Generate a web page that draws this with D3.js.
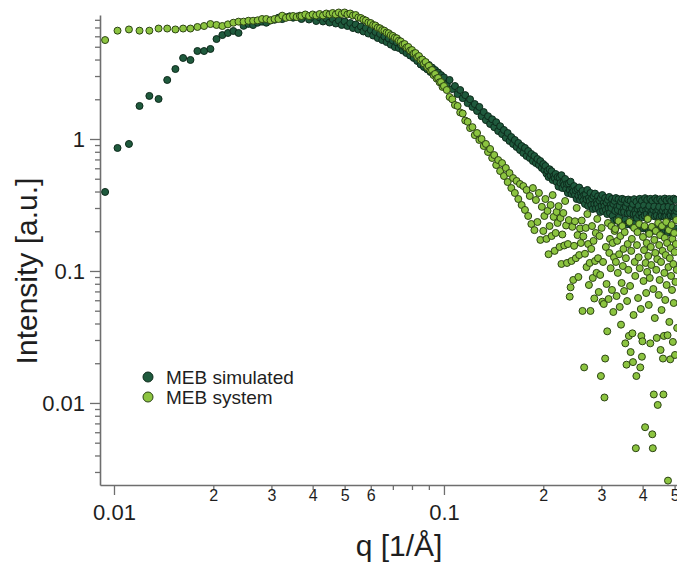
<!DOCTYPE html>
<meta charset="utf-8" />
<script src="https://d3js.org/d3.v7.min.js"></script>
<style>
  body { margin: 0; background: #fff; }
</style>
<div id="my_dataviz"></div>
<script>
  // scattering vector q [1/Å], shared by both curves
  const q = [
    0.0094, 0.01025, 0.0111, 0.01195, 0.0128, 0.01365, 0.0145, 0.01535, 0.0162, 0.01705,
    0.0179, 0.01875, 0.0196, 0.02045, 0.0213, 0.02215, 0.023, 0.02385, 0.0247, 0.02555,
    0.0264, 0.02725, 0.0281, 0.02895, 0.0298, 0.03065, 0.0315, 0.03235, 0.0332, 0.03405,
    0.0349, 0.03575, 0.0366,
    0.037, 0.038, 0.039, 0.04, 0.041, 0.042, 0.043, 0.044, 0.045, 0.046,
    0.047, 0.048, 0.049, 0.05, 0.051, 0.052, 0.053, 0.054, 0.055, 0.056,
    0.057, 0.058, 0.059, 0.06, 0.061, 0.062, 0.063, 0.064, 0.065, 0.066,
    0.067, 0.068, 0.069, 0.07, 0.071, 0.072, 0.073, 0.074, 0.075, 0.076,
    0.077, 0.078, 0.079, 0.08, 0.081, 0.082, 0.083, 0.084, 0.085, 0.086,
    0.087, 0.088, 0.089, 0.09, 0.091, 0.092, 0.093, 0.094, 0.095, 0.096,
    0.097, 0.098, 0.099, 0.1,
    0.102, 0.104, 0.106, 0.108, 0.11, 0.112, 0.114, 0.116, 0.118, 0.12,
    0.122, 0.124, 0.126, 0.128, 0.13, 0.132, 0.134, 0.136, 0.138, 0.14,
    0.142, 0.144, 0.146, 0.148, 0.15, 0.152, 0.154, 0.156, 0.158, 0.16,
    0.162, 0.164, 0.166, 0.168, 0.17, 0.172, 0.174, 0.176, 0.178, 0.18,
    0.182, 0.184, 0.186, 0.188, 0.19, 0.192, 0.194, 0.196, 0.198, 0.2,
    0.2015, 0.203, 0.2045, 0.206, 0.2075, 0.209, 0.2105, 0.212, 0.2135, 0.215,
    0.2165, 0.218, 0.2195, 0.221, 0.2225, 0.224, 0.2255, 0.227, 0.2285, 0.23,
    0.2315, 0.233, 0.2345, 0.236, 0.2375, 0.239, 0.2405, 0.242, 0.2435, 0.245,
    0.2465, 0.248, 0.2495, 0.251, 0.2525, 0.254, 0.2555, 0.257, 0.2585, 0.26,
    0.2615, 0.263, 0.2645, 0.266, 0.2675, 0.269, 0.2705, 0.272, 0.2735, 0.275,
    0.2765, 0.278, 0.2795, 0.281, 0.2825, 0.284, 0.2855, 0.287, 0.2885, 0.29,
    0.2915, 0.293, 0.2945, 0.296, 0.2975, 0.299, 0.3005, 0.302, 0.3035, 0.305,
    0.3065, 0.308, 0.3095, 0.311, 0.3125, 0.314, 0.3155, 0.317, 0.3185, 0.32,
    0.3215, 0.323, 0.3245, 0.326, 0.3275, 0.329, 0.3305, 0.332, 0.3335, 0.335,
    0.3365, 0.338, 0.3395, 0.341, 0.3425, 0.344, 0.3455, 0.347, 0.3485, 0.35,
    0.3515, 0.353, 0.3545, 0.356, 0.3575, 0.359, 0.3605, 0.362, 0.3635, 0.365,
    0.3665, 0.368, 0.3695, 0.371, 0.3725, 0.374, 0.3755, 0.377, 0.3785, 0.38,
    0.3815, 0.383, 0.3845, 0.386, 0.3875, 0.389, 0.3905, 0.392, 0.3935, 0.395,
    0.3965, 0.398, 0.3995, 0.401, 0.4025, 0.404, 0.4055, 0.407, 0.4085, 0.41,
    0.4115, 0.413, 0.4145, 0.416, 0.4175, 0.419, 0.4205, 0.422, 0.4235, 0.425,
    0.4265, 0.428, 0.4295, 0.431, 0.4325, 0.434, 0.4355, 0.437, 0.4385, 0.44,
    0.4415, 0.443, 0.4445, 0.446, 0.4475, 0.449, 0.4505, 0.452, 0.4535, 0.455,
    0.4565, 0.458, 0.4595, 0.461, 0.4625, 0.464, 0.4655, 0.467, 0.4685, 0.47,
    0.4715, 0.473, 0.4745, 0.476, 0.4775, 0.479, 0.4805, 0.482, 0.4835, 0.485,
    0.4865, 0.488, 0.4895, 0.491, 0.4925, 0.494, 0.4955, 0.497, 0.4985, 0.5,
    0.5015, 0.503, 0.5045, 0.506, 0.5075, 0.509
  ];

  // MEB simulated intensity [a.u.]
  const simulated = [
    0.397, 0.855, 0.917, 1.78, 2.12, 2.01, 2.8, 3.39, 4.11, 3.97,
    4.64, 4.64, 4.81, 5.72, 6.13, 6.36, 6.58, 6.36, 7.2, 7.45,
    7.3, 7.6, 7.75, 7.6, 7.9, 8.0, 8.3, 8.1, 8.35, 8.5,
    8.3, 8.45, 8.6,
    8.11, 8.7, 8.04, 8.4, 7.83, 8.33, 7.77, 8.18, 7.63, 8.11,
    7.5, 7.9, 7.31, 7.77, 7.18, 7.56, 6.93, 7.37, 6.75, 7.12,
    6.53, 6.93, 6.3, 6.69, 6.08, 6.47, 5.82, 6.25, 5.62, 5.98,
    5.43, 5.77, 5.19, 5.57, 4.98, 5.38, 4.89, 5.15, 4.68, 4.98,
    4.48, 4.81, 4.29, 4.56, 4.11, 4.4, 3.9, 4.18, 3.67, 3.97,
    3.51, 3.8, 3.37, 3.64, 3.22, 3.48, 3.08, 3.33, 3.0, 3.19,
    2.85, 3.05, 2.73, 2.93,
    2.61, 2.8, 2.39, 2.52, 2.19, 2.35, 2.04, 2.15, 1.87, 2.0,
    1.75, 1.84, 1.63, 1.75, 1.49, 1.6, 1.39, 1.49, 1.3, 1.41,
    1.23, 1.34, 1.15, 1.25, 1.09, 1.17, 1.02, 1.11, 0.966, 1.035,
    0.917, 0.983, 0.87, 0.933, 0.825, 0.885, 0.783, 0.855, 0.743, 0.811,
    0.718, 0.77, 0.681, 0.743, 0.657, 0.705, 0.635, 0.681, 0.603, 0.646,
    0.582, 0.624, 0.547, 0.575, 0.515, 0.59, 0.529, 0.57, 0.489, 0.524,
    0.506, 0.543, 0.472, 0.515, 0.436, 0.51, 0.464, 0.532, 0.425, 0.468,
    0.448, 0.498, 0.418, 0.456, 0.39, 0.46, 0.411, 0.475, 0.383, 0.421,
    0.4, 0.44, 0.376, 0.408, 0.351, 0.418, 0.373, 0.429, 0.345, 0.386,
    0.364, 0.404, 0.342, 0.376, 0.322, 0.38, 0.348, 0.411, 0.311, 0.357,
    0.339, 0.39, 0.316, 0.354, 0.295, 0.37, 0.322, 0.386, 0.298, 0.336,
    0.322, 0.368, 0.3, 0.342, 0.28, 0.357, 0.311, 0.376, 0.285, 0.328,
    0.309, 0.357, 0.29, 0.33, 0.27, 0.345, 0.3, 0.364, 0.275, 0.316,
    0.3, 0.351, 0.262, 0.322, 0.24, 0.339, 0.285, 0.357, 0.245, 0.306,
    0.29, 0.35, 0.255, 0.311, 0.23, 0.335, 0.28, 0.352, 0.236, 0.295,
    0.28, 0.345, 0.245, 0.306, 0.225, 0.328, 0.273, 0.348, 0.232, 0.29,
    0.275, 0.34, 0.24, 0.3, 0.22, 0.322, 0.27, 0.35, 0.228, 0.285,
    0.27, 0.335, 0.252, 0.295, 0.207, 0.311, 0.266, 0.352, 0.214, 0.285,
    0.272, 0.34, 0.255, 0.292, 0.21, 0.314, 0.263, 0.356, 0.212, 0.288,
    0.27, 0.345, 0.248, 0.295, 0.2, 0.311, 0.261, 0.352, 0.207, 0.28,
    0.268, 0.34, 0.214, 0.29, 0.202, 0.308, 0.259, 0.355, 0.209, 0.28,
    0.263, 0.344, 0.214, 0.29, 0.198, 0.306, 0.257, 0.35, 0.207, 0.275,
    0.262, 0.338, 0.216, 0.287, 0.196, 0.304, 0.258, 0.354, 0.204, 0.277,
    0.26, 0.342, 0.21, 0.283, 0.195, 0.307, 0.255, 0.351, 0.203, 0.273,
    0.263, 0.339, 0.211, 0.286, 0.197, 0.302, 0.258, 0.353, 0.205, 0.276,
    0.261, 0.345, 0.21, 0.285, 0.196, 0.3
  ];

  // MEB system intensity [a.u.]
  const system = [
    5.62, 6.62, 6.76, 6.62, 6.62, 6.87, 6.87, 6.76, 6.87, 6.87,
    7.06, 7.18, 7.43, 7.31, 7.18, 7.39, 7.6, 7.75, 7.75, 7.87,
    7.87, 7.93, 8.11, 8.11, 7.93, 8.11, 8.11, 8.6, 8.28, 8.4,
    8.55, 8.4, 8.55,
    8.55, 8.78, 8.55, 8.78, 8.62, 8.85, 8.62, 8.93, 8.78, 9.01,
    8.78, 9.09, 8.85, 9.09, 8.78, 8.93, 8.62, 8.7, 8.33, 8.25,
    8.04, 7.9, 7.63, 7.56, 7.31, 7.24, 6.98, 6.9, 6.69, 6.62,
    6.4, 6.33, 6.12, 6.04, 5.86, 5.79, 5.56, 5.49, 5.19, 5.24,
    4.94, 4.98, 4.68, 4.72, 4.44, 4.48, 4.18, 4.25, 3.97, 4.0,
    3.73, 3.83, 3.51, 3.58, 3.3, 3.33, 3.05, 3.11, 2.87, 2.9,
    2.69, 2.7, 2.48, 2.52,
    2.35, 2.08, 2.0, 1.81, 1.78, 1.59, 1.56, 1.38, 1.35, 1.21,
    1.23, 1.07, 1.11, 0.983, 1.0, 0.885, 0.917, 0.797, 0.84, 0.718,
    0.756, 0.635, 0.693, 0.572, 0.657, 0.524, 0.603, 0.472, 0.552, 0.425,
    0.506, 0.39, 0.481, 0.351, 0.456, 0.316, 0.44, 0.29, 0.411, 0.261,
    0.37, 0.227, 0.425, 0.204, 0.345, 0.235, 0.39, 0.172, 0.306, 0.201,
    0.261, 0.351, 0.175, 0.285, 0.134, 0.219, 0.316, 0.184, 0.376, 0.257,
    0.142, 0.194, 0.28, 0.231, 0.31, 0.152, 0.252, 0.113, 0.189, 0.275,
    0.156, 0.339, 0.221, 0.115, 0.16, 0.243, 0.0639, 0.0752, 0.119, 0.216,
    0.0855, 0.155, 0.238, 0.125, 0.3, 0.187, 0.0901, 0.132, 0.21, 0.163,
    0.241, 0.0498, 0.183, 0.0186, 0.135, 0.212, 0.107, 0.27, 0.16, 0.0783,
    0.115, 0.0498, 0.147, 0.219, 0.0885, 0.169, 0.0619, 0.119, 0.194, 0.0967,
    0.248, 0.125, 0.0693, 0.184, 0.0933, 0.016, 0.212, 0.0585, 0.117, 0.0562,
    0.011, 0.0217, 0.152, 0.0797, 0.0349, 0.231, 0.0613, 0.137, 0.175, 0.105,
    0.219, 0.0718, 0.163, 0.0489, 0.127, 0.201, 0.208, 0.117, 0.0646, 0.169,
    0.0967, 0.239, 0.134, 0.0534, 0.184, 0.0392, 0.0811, 0.219, 0.109, 0.147,
    0.0705, 0.197, 0.0283, 0.125, 0.0195, 0.0592, 0.16, 0.102, 0.0322, 0.235,
    0.077, 0.0243, 0.142, 0.175, 0.0337, 0.0204, 0.0464, 0.212, 0.117, 0.0917,
    0.00454, 0.016, 0.157, 0.197, 0.0624, 0.127, 0.227, 0.105, 0.0186, 0.0515,
    0.0322, 0.0224, 0.0293, 0.181, 0.084, 0.144, 0.219, 0.00655, 0.115, 0.0681,
    0.163, 0.0984, 0.248, 0.13, 0.0553, 0.191, 0.0885, 0.0283, 0.152, 0.111,
    0.216, 0.00579, 0.00454, 0.073, 0.0116, 0.172, 0.044, 0.137, 0.201, 0.102,
    0.0311, 0.123, 0.00966, 0.231, 0.0658, 0.157, 0.0855, 0.187, 0.0252, 0.117,
    0.0506, 0.219, 0.142, 0.0217, 0.0116, 0.0322, 0.0967, 0.178, 0.0603, 0.132,
    0.235, 0.0783, 0.163, 0.0326, 0.00258, 0.107, 0.204, 0.0411, 0.125, 0.0214,
    0.149, 0.0917, 0.223, 0.0718, 0.175, 0.029, 0.113, 0.0572, 0.194, 0.139,
    0.0231, 0.0826, 0.16, 0.243, 0.102, 0.037
  ];

  const seriesNames = ["MEB simulated", "MEB system"];
  const xMajor = [0.01, 0.1];
  const xMinor = [0.02, 0.03, 0.04, 0.05, 0.06, 0.07, 0.08, 0.09, 0.2, 0.3, 0.4, 0.5];
  const xMinorLabelled = [0.02, 0.03, 0.04, 0.05, 0.06, 0.2, 0.3, 0.4, 0.5];
  const yMajor = [0.01, 0.1, 1];
  const yMinor = [
    0.003, 0.004, 0.005, 0.006, 0.007, 0.008, 0.009,
    0.02, 0.03, 0.04, 0.05, 0.06, 0.07, 0.08, 0.09,
    0.2, 0.3, 0.4, 0.5, 0.6, 0.7, 0.8, 0.9,
    2, 3, 4, 5, 6, 7, 8
  ];

  const width = 677, height = 565;
  const font = "'Liberation Sans', Arial, Helvetica, sans-serif";
  const axisColor = "#6e6e6e";
  const fills = { "MEB simulated": "#1f5a3d", "MEB system": "#8cc440" };
  const strokes = { "MEB simulated": "#0d2a1b", "MEB system": "#2c4414" };

  const svg = d3
    .select("#my_dataviz")
    .append("svg")
    .attr("width", width)
    .attr("height", height)
    .style("display", "block")
    .style("background", "#fff");

  // log scales, plot frame: left 100, bottom 485, top 15
  const x = d3.scaleLog().domain([0.00907, 0.597]).range([100, 700]);
  const y = d3.scaleLog().domain([0.00239, 8.7]).range([485, 15]);

  function styleAxis(g, showDomain) {
    g.select(".domain")
      .attr("stroke", axisColor)
      .attr("stroke-width", 1.6)
      .style("display", showDomain ? null : "none");
    g.selectAll(".tick line").attr("stroke", axisColor).attr("stroke-width", 1.3);
    g.selectAll("text").attr("fill", "#1e1e1e").style("font-family", font);
  }

  // Y axis
  svg
    .append("g")
    .attr("transform", "translate(100,0)")
    .call(d3.axisLeft(y).tickValues(yMinor).tickSize(5).tickSizeOuter(0).tickFormat(""))
    .call((g) => styleAxis(g, false));

  svg
    .append("g")
    .attr("transform", "translate(100,0)")
    .call(
      d3.axisLeft(y).tickValues(yMajor).tickSize(10).tickSizeOuter(0).tickPadding(5)
        .tickFormat(d3.format("~g"))
    )
    .call((g) => styleAxis(g, true))
    .call((g) => g.selectAll("text").style("font-size", "22px"));

  // X axis
  svg
    .append("g")
    .attr("transform", "translate(0,485)")
    .call(
      d3.axisBottom(x).tickValues(xMinor).tickSize(5).tickSizeOuter(0)
        .tickFormat((d) =>
          xMinorLabelled.includes(d)
            ? String(Math.round(d / Math.pow(10, Math.floor(Math.log10(d) + 1e-9))))
            : ""
        )
    )
    .call((g) => styleAxis(g, false))
    .call((g) =>
      g.selectAll("text").style("font-size", "16px").attr("dy", null).attr("y", 16)
    );

  svg
    .append("g")
    .attr("transform", "translate(0,485)")
    .call(d3.axisBottom(x).tickValues(xMajor).tickSize(10).tickSizeOuter(0).tickFormat(d3.format("~g")))
    .call((g) => styleAxis(g, true))
    .call((g) =>
      g.selectAll("text").style("font-size", "22px").attr("dy", null).attr("y", 34.5)
    );

  // axis titles
  svg
    .append("text")
    .attr("transform", "translate(37,271) rotate(-90)")
    .attr("text-anchor", "middle")
    .style("font-family", font)
    .style("font-size", "30px")
    .attr("fill", "#1e1e1e")
    .text("Intensity [a.u.]");

  svg
    .append("text")
    .attr("x", 399)
    .attr("y", 556)
    .attr("text-anchor", "middle")
    .style("font-family", font)
    .style("font-size", "30px")
    .attr("fill", "#1e1e1e")
    .text("q [1/Å]");

  // points: simulated first, system drawn on top
  const series = [
    { name: "MEB simulated", values: simulated },
    { name: "MEB system", values: system },
  ];

  series.forEach(function (s) {
    const pts = q
      .map((d, i) => ({ q: d, I: s.values[i] }))
      .filter((d) => d.I !== undefined && d.I > 0);
    svg
      .append("g")
      .selectAll("circle")
      .data(pts)
      .join("circle")
      .attr("cx", (d) => x(d.q))
      .attr("cy", (d) => y(d.I))
      .attr("r", 3.5)
      .attr("fill", fills[s.name])
      .attr("stroke", strokes[s.name])
      .attr("stroke-width", 1);
  });

  // legend
  const legend = svg.append("g").attr("transform", "translate(148,377)");
  legend
    .selectAll("circle")
    .data(seriesNames)
    .join("circle")
    .attr("cx", 0)
    .attr("cy", (d, i) => i * 20)
    .attr("r", 5)
    .attr("fill", (d) => fills[d])
    .attr("stroke", (d) => strokes[d])
    .attr("stroke-width", 1);
  legend
    .selectAll("text")
    .data(seriesNames)
    .join("text")
    .attr("x", 18)
    .attr("y", (d, i) => i * 20 + 6.5)
    .style("font-family", font)
    .style("font-size", "19px")
    .attr("fill", "#1e1e1e")
    .text((d) => d);
</script>
